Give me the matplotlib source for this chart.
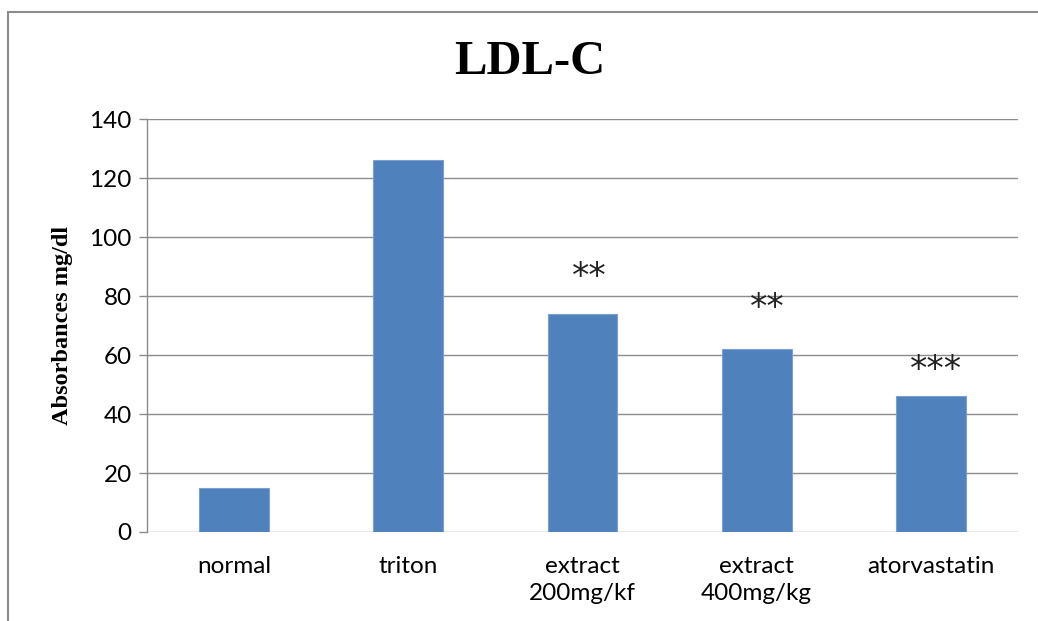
import matplotlib
matplotlib.use('Agg')
import matplotlib.pyplot as plt
from matplotlib.patches import Rectangle
import numpy as np

# values
groups = ['normal', 'triton', 'extract\n200mg/kf', 'extract\n400mg/kg', 'atorvastatin']
ldl = [15, 126, 74, 62, 46]
stars = ['', '', '**', '**', '***']
y_ticks = [0, 20, 40, 60, 80, 100, 120, 140]

bar_color = '#4F81BD'
grid_color = '#8C8C8C'

fig = plt.figure(figsize=(10.38, 6.21), dpi=100)
ax = fig.add_axes([147 / 1038, 1 - 532 / 621, (1018 - 147) / 1038, (532 - 119) / 621])

x = np.arange(len(groups))
ax.bar(x, ldl, width=0.4, color=bar_color, edgecolor='#7BA0D2', linewidth=0.8, zorder=3)

# significance marks sit a little above each bar
star_gap = [0, 0, 12.5, 14, 9]
star_shift = [0, 0, 0.04, 0.06, 0.03]
for i, s in enumerate(stars):
    if s:
        ax.text(x[i] + star_shift[i], ldl[i] + star_gap[i], s, ha='center', va='center',
                fontsize=25, family=['DejaVu Sans'], color='#222222')

ax.set_xlim(-0.5, len(groups) - 0.5)
ax.set_ylim(0, 140)
ax.set_yticks(y_ticks)
ax.set_xticks(x)
ax.set_xticklabels(groups, fontsize=17.5, family=['Lato', 'DejaVu Sans'], linespacing=1.35)
ax.tick_params(axis='x', length=0, pad=17)
ax.tick_params(axis='y', length=6, width=1, color=grid_color, labelsize=17.5, pad=5)
for lab in ax.get_yticklabels():
    lab.set_family(['Lato', 'DejaVu Sans'])

ax.grid(axis='y', color=grid_color, linewidth=1, zorder=0)
for side in ['top', 'right', 'bottom']:
    ax.spines[side].set_visible(False)
ax.spines['left'].set_color(grid_color)
ax.spines['left'].set_linewidth(1)

ax.set_ylabel('Absorbances mg/dl', fontsize=17.5, fontweight='bold',
              family=['Liberation Serif', 'DejaVu Serif'], labelpad=12)

fig.text(530 / 1038, 1 - 62 / 621, 'LDL-C', ha='center', va='center', fontsize=35,
         fontweight='bold', family=['Liberation Serif', 'DejaVu Serif'])

# outer chart frame, cut off at the right and bottom like the source
fig.add_artist(Rectangle((8 / 1038, -0.2), 1.2, 1.2 - 12 / 621, transform=fig.transFigure,
                         fill=False, edgecolor='#8C8C8C', linewidth=1.5))

fig.savefig('out.png', dpi=100)
